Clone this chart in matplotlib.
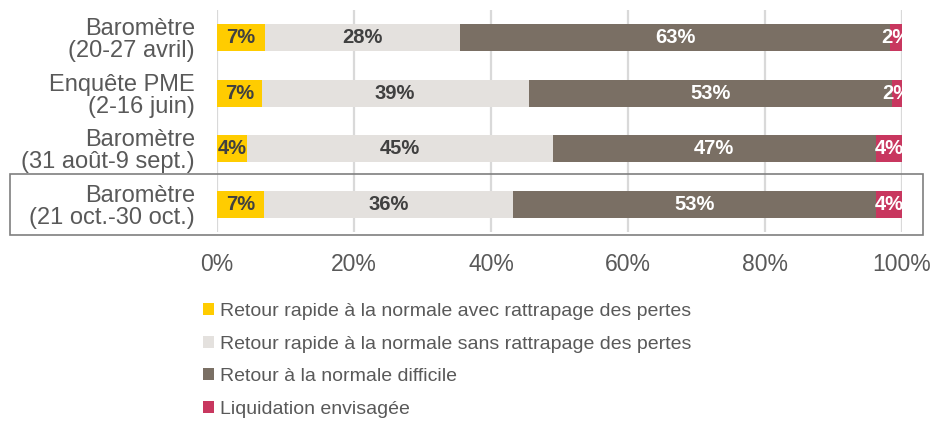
import matplotlib
matplotlib.use('Agg')
import matplotlib.pyplot as plt
from matplotlib.patches import Rectangle
from matplotlib.ticker import PercentFormatter
import numpy as np

plt.rcParams['font.family'] = ['Liberation Sans', 'DejaVu Sans']

# survey waves (top to bottom)
categories = ['Baromètre\n(20-27 avril)', 'Enquête PME\n(2-16 juin)',
              'Baromètre\n(31 août-9 sept.)', 'Baromètre\n(21 oct.-30 oct.)']
series_names = ['Retour rapide à la normale avec rattrapage des pertes',
                'Retour rapide à la normale sans rattrapage des pertes',
                'Retour à la normale difficile',
                'Liquidation envisagée']
avec_rattrapage = [7.0, 6.5, 4.4, 6.9]
sans_rattrapage = [28.5, 39.0, 44.6, 36.3]
difficile = [62.8, 53.0, 47.2, 53.0]
liquidation = [1.7, 1.5, 3.8, 3.8]
# labels as printed on the bars
labels_avec = ['7%', '7%', '4%', '7%']
labels_sans = ['28%', '39%', '45%', '36%']
labels_diff = ['63%', '53%', '47%', '53%']
labels_liq = ['2%', '2%', '4%', '4%']
xticks = [0, 20, 40, 60, 80, 100]

colors = ['#FFCC00', '#E4E1DE', '#7A6F64', '#C8375F']
text_colors = ['#404040', '#404040', 'white', 'white']

fig = plt.figure(figsize=(9.34, 4.21), dpi=100)
ax = fig.add_axes([217 / 934, 1 - 232 / 421, 685 / 934, 222 / 421])

y = np.arange(len(categories))
left = np.zeros(len(categories))
for vals, labs, name, c, tc in zip(
        [avec_rattrapage, sans_rattrapage, difficile, liquidation],
        [labels_avec, labels_sans, labels_diff, labels_liq],
        series_names, colors, text_colors):
    vals = np.array(vals)
    ax.barh(y, vals, left=left, height=0.49, color=c, label=name, zorder=2)
    for yi, l, v, t in zip(y, left, vals, labs):
        ax.text(l + v / 2, yi, t, ha='center', va='center', fontsize=14.5,
                fontweight='bold', color=tc, zorder=3, clip_on=True)
    left = left + vals

ax.set_xlim(0, 100)
ax.set_ylim(len(categories) - 0.5, -0.5)
ax.set_xticks(xticks)
ax.xaxis.set_major_formatter(PercentFormatter(decimals=0))
ax.set_yticks(y)
ax.set_yticklabels(categories, fontsize=17, color='#595959', linespacing=1.0)
ax.tick_params(axis='y', length=0, pad=16)
ax.tick_params(axis='x', length=0, pad=15, labelsize=16.5, labelcolor='#595959')
ax.grid(axis='x', color='#D9D9D9', linewidth=1.6, zorder=0)
ax.set_axisbelow(True)
for s in ax.spines.values():
    s.set_visible(False)

# highlight box around the latest wave
fig.patches.append(Rectangle((10 / 934, 1 - 235 / 421), 913 / 934, 61 / 421,
                             transform=fig.transFigure, fill=False,
                             edgecolor='#7F7F7F', linewidth=1.2))

fig.legend(loc='upper left', bbox_to_anchor=(203 / 934, 1 - 303 / 421),
           frameon=False, fontsize=14, handlelength=0.55, handleheight=0.55,
           handletextpad=0.3, labelspacing=0.8, borderpad=0, borderaxespad=0,
           labelcolor='#595959')

fig.savefig('out.png', dpi=100)
